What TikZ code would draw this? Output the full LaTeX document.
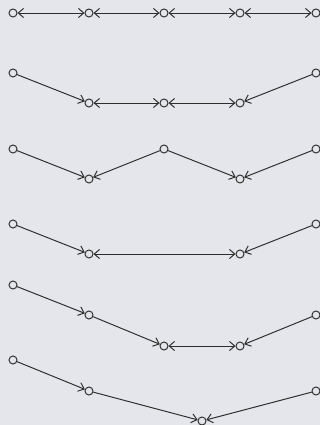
\documentclass[tikz,border=0pt]{standalone}
\usepackage{tikz}
\usetikzlibrary{arrows.meta}
\definecolor{cv-bg}{HTML}{E5E6EB}
\definecolor{cv-edge}{HTML}{2E2E2E}

\begin{document}
\begin{tikzpicture}[x=0.025cm, y=-0.025cm, >={Straight Barb[length=3.8pt,width=6.5pt]}]
    \tikzset{
        vtx/.style={circle, draw=cv-edge, line width=0.7pt, fill=cv-bg, minimum size=0.2cm, inner sep=0pt},
        link/.style={draw=cv-edge, line width=0.7pt}
    }
    \fill[cv-bg] (0,0) rectangle (320,425);
    \useasboundingbox (0,0) rectangle (320,425);

    % Row 1: all merged
    \foreach \i/\x in {1/13,2/89,3/164,4/240,5/316} {
        \node[vtx] (a\i) at (\x,13) {};
    }
    \foreach \i/\j in {1/2,2/3,3/4,4/5} {
        \draw[link, <->] (a\i) -- (a\j);
    }

    % Row 2
    \foreach \i/\x/\y in {1/13/73,2/89/103,3/164/103,4/240/103,5/316/73} {
        \node[vtx] (b\i) at (\x,\y) {};
    }
    \draw[link, ->] (b1) -- (b2);
    \draw[link, <->] (b2) -- (b3);
    \draw[link, <->] (b3) -- (b4);
    \draw[link, ->] (b5) -- (b4);

    % Row 3
    \foreach \i/\x/\y in {1/13/149,2/89/179,3/164/149,4/240/179,5/316/149} {
        \node[vtx] (c\i) at (\x,\y) {};
    }
    \draw[link, ->] (c1) -- (c2);
    \draw[link, ->] (c3) -- (c2);
    \draw[link, ->] (c3) -- (c4);
    \draw[link, ->] (c5) -- (c4);

    % Row 4
    \foreach \i/\x/\y in {1/13/224,2/89/254,4/240/254,5/316/224} {
        \node[vtx] (d\i) at (\x,\y) {};
    }
    \draw[link, ->] (d1) -- (d2);
    \draw[link, <->] (d2) -- (d4);
    \draw[link, ->] (d5) -- (d4);

    % Row 5
    \foreach \i/\x/\y in {1/13/285,2/89/315,3/164/346,4/240/346,5/316/315} {
        \node[vtx] (e\i) at (\x,\y) {};
    }
    \draw[link, ->] (e1) -- (e2);
    \draw[link, ->] (e2) -- (e3);
    \draw[link, <->] (e3) -- (e4);
    \draw[link, ->] (e5) -- (e4);

    % Row 6
    \foreach \i/\x/\y in {1/13/360,2/89/391,3/202/421,4/316/391} {
        \node[vtx] (f\i) at (\x,\y) {};
    }
    \draw[link, ->] (f1) -- (f2);
    \draw[link, ->] (f2) -- (f3);
    \draw[link, ->] (f4) -- (f3);
\end{tikzpicture}
\end{document}
